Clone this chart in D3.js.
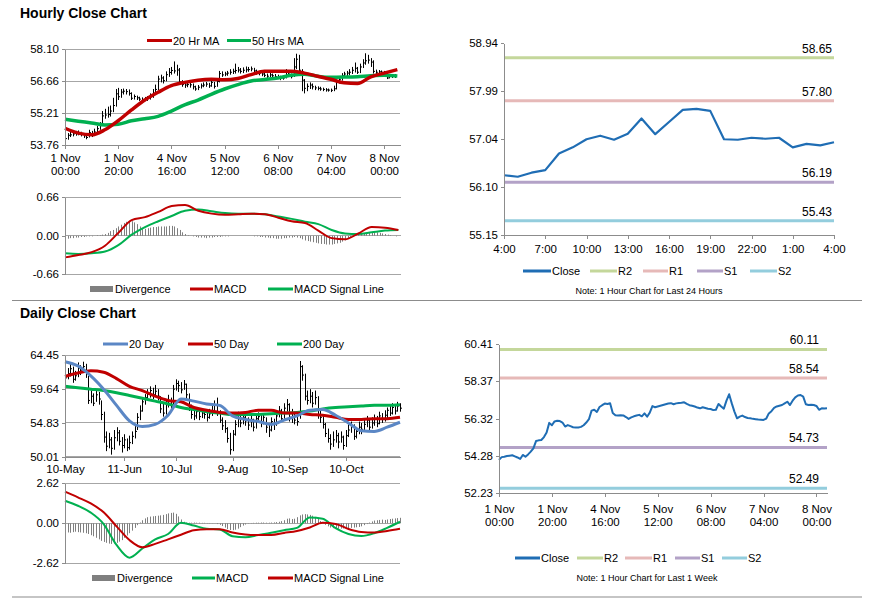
<!DOCTYPE html>
<html>
<head>
<meta charset="utf-8">
<script src="https://cdn.jsdelivr.net/npm/d3@7"></script>
<style>
  body { margin: 0; background: #fff; }
  svg { font-family: Arial, "Liberation Sans", sans-serif; }
  .axis path, .axis line { stroke: #8c8c8c; shape-rendering: crispEdges; }
  .axis text { font-size: 11.5px; fill: #000; }
  .grid { stroke: #a6a6a6; stroke-width: 1; shape-rendering: crispEdges; }
  .legend text { font-size: 11px; fill: #000; }
  .title { font-size: 14px; font-weight: bold; }
</style>
</head>
<body>
<svg id="chart" width="873" height="601"></svg>
<script>
// ---- hourly data (1 Nov 00:00 - 8 Nov 04:00, trading hours) ----
const hourTickIdx = [0, 20, 40, 60, 80, 100, 120];
const hourTickDay = ['1 Nov', '1 Nov', '4 Nov', '5 Nov', '6 Nov', '7 Nov', '8 Nov'];
const hourTickTime = ['00:00', '20:00', '16:00', '12:00', '08:00', '04:00', '00:00'];

const hourClose = [54.05,54.20,54.22,54.26,54.28,54.30,54.24,54.18,54.10,54.32,
  54.22,54.35,54.50,54.68,55.08,55.12,55.14,55.30,55.55,56.08,
  55.95,56.16,56.20,56.18,56.10,55.88,55.96,55.90,55.84,55.82,
  55.83,55.86,55.95,56.10,56.28,56.75,56.80,56.68,56.95,57.05,
  57.14,57.12,57.16,56.62,56.50,56.48,56.50,56.49,56.40,56.30,
  56.38,56.44,56.48,56.52,56.44,56.60,56.42,56.64,57.00,56.94,
  56.98,57.02,57.06,57.10,57.14,57.16,57.10,57.15,57.17,57.18,
  57.21,57.12,57.05,57.02,56.98,56.92,56.88,56.94,56.90,56.86,
  56.84,56.78,56.80,57.12,56.98,56.86,57.30,57.65,57.15,56.70,
  56.33,56.42,56.48,56.40,56.35,56.33,56.30,56.28,56.26,56.25,
  56.24,56.31,56.60,56.72,56.90,56.98,57.02,57.06,57.15,57.24,
  57.06,57.30,57.48,57.58,57.61,57.52,57.10,57.06,57.08,57.06,
  57.01,56.80,56.88,56.87,56.88];

const hourHigh = [54.25,54.30,54.35,54.38,54.40,54.42,54.36,54.30,54.28,54.45,
  54.40,54.50,54.62,54.80,55.30,55.40,55.50,55.55,55.90,56.30,
  56.35,56.30,56.32,56.30,56.28,56.15,56.05,56.00,55.95,55.92,
  55.94,55.98,56.10,56.30,56.50,56.90,56.95,56.88,57.10,57.25,
  57.30,57.55,57.40,57.25,56.70,56.62,56.60,56.58,56.55,56.45,
  56.48,56.55,56.60,56.62,56.58,56.70,56.62,56.78,57.12,57.10,
  57.08,57.12,57.20,57.22,57.45,57.30,57.25,57.28,57.32,57.30,
  57.32,57.26,57.18,57.12,57.10,57.05,57.00,57.04,57.00,56.98,
  56.95,56.90,56.92,57.20,57.15,57.00,57.70,57.90,57.85,57.20,
  56.75,56.55,56.60,56.55,56.45,56.42,56.40,56.36,56.34,56.32,
  56.32,56.45,56.72,56.88,57.02,57.08,57.12,57.20,57.30,57.50,
  57.30,57.45,57.65,57.92,57.85,57.70,57.60,57.18,57.16,57.14,
  57.12,57.05,56.98,56.96,56.98];

const hourLow = [53.95,54.00,54.12,54.15,54.18,54.20,54.15,54.08,54.02,54.10,
  54.12,54.20,54.30,54.45,54.65,54.95,55.00,55.05,55.25,55.50,
  55.80,55.90,56.05,56.05,56.00,55.80,55.82,55.80,55.76,55.74,
  55.75,55.76,55.82,55.90,56.05,56.25,56.60,56.55,56.65,56.85,
  56.95,57.00,56.90,56.50,56.40,56.35,56.38,56.36,56.28,56.22,
  56.25,56.32,56.38,56.40,56.35,56.40,56.32,56.40,56.60,56.85,
  56.88,56.90,56.95,56.98,57.00,57.05,57.00,57.02,57.05,57.08,
  57.10,57.02,56.95,56.92,56.88,56.84,56.80,56.84,56.82,56.78,
  56.75,56.70,56.72,56.78,56.90,56.78,56.85,57.20,56.90,56.20,
  56.10,56.20,56.30,56.28,56.25,56.24,56.22,56.20,56.18,56.18,
  56.16,56.20,56.28,56.55,56.68,56.82,56.88,56.92,56.98,57.05,
  56.98,57.02,57.25,57.40,57.45,57.30,57.00,56.95,56.98,56.96,
  56.92,56.75,56.78,56.80,56.80];

// moving averages / MACD sampled every 5 hours
const hourMaIdx = [0,5,10,15,20,25,30,35,40,45,50,55,60,65,70,75,80,85,90,95,100,105,110,115,120,125];
const ma20Hr = [54.52,54.30,54.22,54.45,54.86,55.35,55.80,56.15,56.45,56.60,56.70,56.74,56.72,
  56.78,56.95,57.10,57.11,57.11,57.02,56.88,56.74,56.58,56.55,56.85,57.02,57.18];
const ma50Hr = [54.93,54.84,54.76,54.67,54.70,54.86,54.95,55.06,55.30,55.58,55.80,56.06,56.30,
  56.50,56.66,56.73,56.80,56.92,56.97,56.88,56.83,56.84,56.86,56.90,56.92,56.89];
const macdHour = [-0.37,-0.33,-0.28,-0.17,0.05,0.27,0.32,0.41,0.51,0.53,0.43,0.38,0.36,
  0.37,0.38,0.37,0.31,0.25,0.22,0.09,-0.04,-0.06,0.04,0.15,0.14,0.10];
const signalHour = [-0.30,-0.31,-0.30,-0.27,-0.16,0.02,0.15,0.25,0.34,0.43,0.45,0.42,0.39,
  0.38,0.38,0.37,0.33,0.29,0.24,0.20,0.10,0.04,0.03,0.06,0.09,0.10];
const divHour = [-0.05,-0.05,-0.04,-0.04,-0.03,-0.03,-0.02,-0.02,-0.01,-0.01,
  -0.01,0.00,0.01,0.01,0.02,0.03,0.05,0.08,0.10,0.13,
  0.16,0.19,0.22,0.24,0.25,0.25,0.23,0.20,0.16,0.13,
  0.12,0.13,0.14,0.15,0.15,0.16,0.16,0.16,0.16,0.17,
  0.17,0.16,0.13,0.10,0.06,0.03,0.01,0.00,-0.01,-0.02,
  -0.03,-0.03,-0.03,-0.04,-0.03,-0.03,-0.02,-0.02,-0.02,-0.01,
  -0.01,-0.01,0.00,0.00,0.00,0.00,0.00,0.00,0.00,0.00,
  0.00,-0.01,-0.01,-0.02,-0.02,-0.03,-0.03,-0.04,-0.04,-0.05,
  -0.05,-0.05,-0.04,-0.04,-0.03,-0.03,-0.02,-0.03,-0.04,-0.06,
  -0.08,-0.09,-0.10,-0.11,-0.12,-0.13,-0.14,-0.14,-0.15,-0.15,
  -0.15,-0.14,-0.13,-0.12,-0.10,-0.08,-0.05,-0.02,0.00,0.01,
  0.02,0.03,0.04,0.05,0.05,0.06,0.06,0.06,0.05,0.04,
  0.03,0.02,0.01,0.00,-0.01];

const hourYTicks = [53.76, 55.21, 56.66, 58.10];
const hourMacdTicks = [-0.66, 0, 0.66];

// ---- last 24 hours ----
const last24TickIdx = [0, 3, 6, 9, 12, 15, 18, 21, 24];
const last24Labels = ['4:00', '7:00', '10:00', '13:00', '16:00', '19:00', '22:00', '1:00', '4:00'];
const last24Close = [56.33,56.30,56.38,56.43,56.76,56.88,57.04,57.11,57.03,57.15,57.45,57.14,57.38,
  57.62,57.64,57.60,57.04,57.03,57.07,57.05,57.07,56.88,56.95,56.92,56.98];
const last24YTicks = [55.15, 56.10, 57.04, 57.99, 58.94];
const levels24 = [58.65, 57.80, 56.19, 55.43];

// ---- last week levels ----
const weekYTicks = [52.23, 54.28, 56.32, 58.37, 60.41];
const levelsWeek = [60.11, 58.54, 54.73, 52.49];

const levelNames = ['R2', 'R1', 'S1', 'S2'];
const levelColors = ['#c4d79b', '#e6b9b8', '#b3a2c7', '#93cddd'];

// ---- daily data (10 May - early Nov, trading days) ----
const dayTickIdx = [0, 23, 43, 65, 87, 109];
const dayTickLabels = ['10-May', '11-Jun', '10-Jul', '9-Aug', '10-Sep', '10-Oct'];

const dayClose = [61.2,61.8,62.5,61.0,61.5,62.6,62.2,62.8,61.9,58.0,
  58.6,57.6,58.8,58.2,56.0,52.8,51.5,52.4,51.2,52.7,
  53.4,52.2,51.6,52.4,51.3,52.0,52.9,53.6,55.6,56.5,
  57.8,58.4,58.9,59.4,58.8,59.3,58.6,56.8,56.2,57.4,
  57.9,57.2,59.6,60.4,60.1,59.5,60.3,58.8,57.0,56.0,
  55.8,56.4,55.7,56.2,56.0,55.6,56.1,56.5,57.3,56.2,
  55.2,54.4,54.0,52.6,51.0,53.2,54.6,55.4,54.8,55.6,
  55.1,54.5,55.3,54.2,55.4,55.7,54.9,55.6,54.2,53.8,
  55.0,54.6,55.8,56.5,55.4,56.9,57.4,55.6,56.2,55.2,
  55.0,62.8,61.6,58.6,58.0,58.6,57.6,58.4,56.0,55.6,
  54.6,53.3,52.6,51.8,52.4,53.0,52.1,52.8,51.6,53.0,
  53.8,54.4,52.9,53.6,54.2,53.9,54.6,55.2,54.2,54.8,
  55.3,54.7,55.8,55.4,55.9,56.6,56.2,57.0,56.5,57.2,
  56.9];

const dayHigh = [62.3,62.6,63.2,62.8,62.2,63.4,63.0,63.5,63.2,61.5,
  59.4,59.0,59.5,59.2,58.0,56.4,53.6,53.4,52.8,53.8,
  54.2,53.8,52.8,53.2,52.6,53.0,53.6,54.4,56.2,57.3,
  58.4,58.9,59.6,60.0,59.8,60.2,59.6,58.6,57.5,58.2,
  58.8,58.4,60.2,61.0,60.8,60.6,60.9,60.4,59.0,57.4,
  56.8,57.0,56.8,56.9,56.7,56.5,56.8,57.2,58.0,58.4,
  56.6,55.6,55.2,54.2,53.4,53.8,55.2,56.4,55.8,56.2,
  56.0,55.6,55.9,55.4,56.0,56.3,55.9,56.2,55.6,54.8,
  55.6,55.4,56.3,57.2,56.8,57.6,58.2,57.6,56.8,56.4,
  56.0,63.6,63.0,61.8,59.4,59.6,59.2,59.4,58.6,56.6,
  55.8,54.8,54.0,53.2,53.6,53.8,53.4,53.6,53.0,53.8,
  54.6,55.0,54.6,54.2,55.0,54.8,55.4,55.8,55.4,55.6,
  56.0,55.8,56.4,56.2,56.6,57.0,57.2,57.6,57.4,57.8,
  57.6];

const dayLow = [60.6,61.0,61.4,60.5,60.8,61.3,61.6,62.0,61.2,57.5,
  57.6,57.2,57.8,57.4,55.2,52.0,50.8,51.2,50.3,51.0,
  52.2,51.6,50.6,51.2,50.8,51.0,51.8,52.6,53.8,55.2,
  56.4,57.4,58.0,58.4,58.2,58.6,58.0,56.2,55.7,56.0,
  57.0,56.8,57.4,59.4,59.2,59.0,59.5,58.2,56.5,55.4,
  55.2,55.4,55.2,55.5,55.4,55.0,55.4,55.8,56.4,55.8,
  54.8,53.8,53.4,52.0,50.3,50.8,53.0,54.2,54.2,54.6,
  54.4,53.8,54.2,53.6,54.0,55.0,54.2,54.6,53.4,52.8,
  53.6,53.8,54.4,55.6,55.0,55.4,56.4,55.0,54.8,54.6,
  54.4,55.4,60.8,58.0,57.4,57.6,57.0,57.4,55.4,54.8,
  54.0,52.8,52.0,51.0,51.4,52.0,51.2,52.0,51.0,51.4,
  52.8,53.4,52.4,52.6,53.2,53.2,53.6,54.2,53.6,54.0,
  54.4,54.2,54.6,54.8,55.0,55.4,55.8,56.0,56.0,56.4,
  56.4];

// moving averages / MACD sampled every 5 days
const dayMaIdx = [0,5,10,15,20,25,30,35,40,45,50,55,60,65,70,75,80,85,90,95,100,105,110,115,120,125,130];
const ma20Day = [63.5,62.9,61.5,59.6,57.3,55.1,54.3,54.6,55.9,58.2,57.9,57.5,57.3,55.8,
  55.3,55.0,54.6,55.2,55.8,56.6,56.7,55.9,54.8,53.7,53.6,54.2,54.9];
const ma50Day = [61.4,61.9,62.2,62.0,61.1,60.0,59.4,58.6,58.0,57.8,57.0,56.6,56.3,56.2,
  56.3,56.6,56.6,56.2,56.2,56.0,55.9,55.6,55.3,55.3,55.4,55.4,55.6];
const ma200Day = [60.0,59.8,59.6,59.4,59.1,58.7,58.3,57.9,57.5,57.0,56.7,56.4,56.2,56.0,
  56.0,56.0,56.1,56.2,56.3,56.5,56.8,57.0,57.1,57.2,57.3,57.3,57.4];
const macdDay = [1.48,1.15,0.70,-0.05,-1.42,-2.25,-1.65,-1.05,-0.70,0.03,-0.15,-0.36,-0.40,
  -0.85,-0.92,-0.77,-0.62,-0.45,-0.30,0.38,0.30,-0.32,-0.70,-0.83,-0.65,-0.30,0.10];
const signalDay = [2.07,1.70,1.30,0.72,-0.20,-1.10,-1.57,-1.35,-1.05,-0.75,-0.45,-0.39,-0.39,
  -0.60,-0.73,-0.77,-0.76,-0.63,-0.50,-0.27,0.03,-0.04,-0.37,-0.57,-0.61,-0.50,-0.36];
const divDay = [-0.62,-0.60,-0.62,-0.58,-0.55,-0.58,-0.60,-0.62,-0.65,-0.70,
  -0.78,-0.85,-0.95,-1.05,-1.15,-1.22,-1.28,-1.33,-1.35,-1.32,
  -1.28,-1.20,-1.10,-0.95,-0.80,-0.65,-0.48,-0.30,-0.12,0.05,
  0.20,0.32,0.40,0.44,0.46,0.48,0.50,0.52,0.55,0.60,
  0.65,0.68,0.70,0.62,0.45,0.25,0.10,0.05,0.04,0.04,
  0.05,0.04,0.04,0.03,0.03,0.02,0.02,0.01,0.00,-0.05,
  -0.10,-0.18,-0.28,-0.38,-0.44,-0.45,-0.42,-0.35,-0.25,-0.15,
  -0.08,-0.02,0.02,0.03,0.04,0.04,0.05,0.05,0.04,0.04,
  0.05,0.06,0.08,0.10,0.14,0.20,0.30,0.32,0.28,0.30,
  0.40,0.52,0.58,0.60,0.58,0.55,0.50,0.42,0.30,0.15,
  0.02,-0.10,-0.20,-0.28,-0.32,-0.35,-0.36,-0.35,-0.34,-0.33,
  -0.32,-0.30,-0.28,-0.26,-0.24,-0.20,-0.12,-0.05,0.05,0.12,
  0.18,0.20,0.22,0.24,0.22,0.25,0.28,0.30,0.32,0.34,
  0.36];

const dayYTicks = [50.01, 54.83, 59.64, 64.45];
const dayMacdTicks = [-2.62, 0, 2.62];

const RED = '#c00000';
const GREEN = '#00b050';
const BLUE = '#5b87c5';
const CLOSE_BLUE = '#1f6db4';
const GREY_BAR = '#7f7f7f';

const svg = d3.select('#chart');
const fmt = d => d.toFixed(2);

/**
 * Horizontal gridlines
 */
function addGridY(y, ticks, x0, x1) {
    svg.append('g').selectAll('line')
        .data(ticks)
        .enter().append('line')
        .attr('class', 'grid')
        .attr('x1', x0).attr('x2', x1)
        .attr('y1', d => y(d)).attr('y2', d => y(d));
}

/**
 * Left value axis
 */
function addAxisY(y, ticks, x) {
    svg.append('g')
        .attr('class', 'axis')
        .attr('transform', `translate(${x},0)`)
        .call(d3.axisLeft(y).tickValues(ticks).tickFormat(fmt).tickSize(3).tickSizeOuter(0).tickPadding(3));
}

/**
 * Bottom axis, optionally two label lines
 */
function addAxisX(x, yPos, ticks, line1, line2, pad) {
    const ax = svg.append('g')
        .attr('class', 'axis')
        .attr('transform', `translate(0,${yPos})`)
        .call(d3.axisBottom(x).tickValues(ticks).tickSize(4).tickSizeOuter(0).tickPadding(pad || 4)
            .tickFormat((d, i) => line1[i]));
    if (line2) {
        ax.selectAll('.tick text').each(function (d, i) {
            const t = d3.select(this);
            t.text(null);
            t.append('tspan').attr('x', 0).attr('dy', '0.71em').text(line1[i]);
            t.append('tspan').attr('x', 0).attr('dy', '1.15em').text(line2[i]);
        });
    }
    return ax;
}

/**
 * High-low bars with a close tick
 */
function addOhlc(x, y, hi, lo, cl) {
    const g = svg.append('g').attr('stroke', '#000').attr('stroke-width', 1);
    g.selectAll('line.hl')
        .data(cl)
        .enter().append('line')
        .attr('x1', (d, i) => Math.round(x(i)) + 0.5)
        .attr('x2', (d, i) => Math.round(x(i)) + 0.5)
        .attr('y1', (d, i) => y(hi[i]))
        .attr('y2', (d, i) => y(lo[i]));
    g.selectAll('line.cl')
        .data(cl)
        .enter().append('line')
        .attr('x1', (d, i) => Math.round(x(i)) + 0.5)
        .attr('x2', (d, i) => Math.round(x(i)) + 2)
        .attr('y1', d => y(d))
        .attr('y2', d => y(d));
}

/**
 * Line series
 */
function addLine(x, y, idx, values, color, width, curve) {
    const line = d3.line()
        .x((d, i) => x(idx[i]))
        .y(d => y(d))
        .curve(curve || d3.curveMonotoneX);
    svg.append('path')
        .datum(values)
        .attr('fill', 'none')
        .attr('stroke', color)
        .attr('stroke-width', width)
        .attr('stroke-linejoin', 'round')
        .attr('d', line);
}

/**
 * Divergence histogram
 */
function addHistogram(x, y, values) {
    svg.append('g').selectAll('line')
        .data(values)
        .enter().append('line')
        .attr('x1', (d, i) => Math.round(x(i)) + 0.5)
        .attr('x2', (d, i) => Math.round(x(i)) + 0.5)
        .attr('y1', y(0))
        .attr('y2', d => y(d))
        .attr('stroke', GREY_BAR)
        .attr('stroke-width', 1);
}

/**
 * Support / resistance levels with value labels
 */
function addLevels(x0, x1, y, levels, labelX) {
    levels.forEach((v, i) => {
        svg.append('line')
            .attr('x1', x0).attr('x2', x1)
            .attr('y1', y(v)).attr('y2', y(v))
            .attr('stroke', levelColors[i])
            .attr('stroke-width', 3);
        svg.append('text')
            .attr('x', labelX).attr('y', y(v) - 5)
            .attr('text-anchor', 'end')
            .attr('font-size', 12)
            .text(fmt(v));
    });
}

function legendLine(x1, x2, y, color, label, width) {
    const g = svg.append('g').attr('class', 'legend');
    g.append('line').attr('x1', x1).attr('x2', x2).attr('y1', y).attr('y2', y)
        .attr('stroke', color).attr('stroke-width', width || 3);
    g.append('text').attr('x', x2 + 1).attr('y', y + 4).text(label);
}

function legendBox(x1, x2, y, color, label) {
    const g = svg.append('g').attr('class', 'legend');
    g.append('rect').attr('x', x1).attr('y', y - 3).attr('width', x2 - x1).attr('height', 6).attr('fill', color);
    g.append('text').attr('x', x2 + 2).attr('y', y + 4).text(label);
}

function separator(y) {
    svg.append('line').attr('x1', 12).attr('x2', 862).attr('y1', y).attr('y2', y)
        .attr('stroke', '#8c8c8c').attr('stroke-width', 1.2);
}

// ================= titles =================
svg.append('text').attr('class', 'title').attr('x', 20).attr('y', 18).text('Hourly Close Chart');
svg.append('text').attr('class', 'title').attr('x', 20).attr('y', 318).text('Daily Close Chart');
separator(300.5);
separator(597);

// ================= hourly price =================
const xHour = d3.scaleLinear().domain([0, 126]).range([65, 400]);
const yHour = d3.scaleLinear().domain([53.76, 58.10]).range([145, 49.3]);
addGridY(yHour, hourYTicks, 65, 400);
addOhlc(xHour, yHour, hourHigh, hourLow, hourClose);
addLine(xHour, yHour, hourMaIdx, ma50Hr, GREEN, 3.5);
addLine(xHour, yHour, hourMaIdx, ma20Hr, RED, 3.5);
addAxisY(yHour, hourYTicks, 65);
addAxisX(xHour, 145, hourTickIdx, hourTickDay, hourTickTime, 5);
legendLine(147, 172, 40.5, RED, '20 Hr MA');
legendLine(227, 251, 40.5, GREEN, '50 Hrs MA');

// ================= hourly MACD =================
const xHourM = d3.scaleLinear().domain([0, 126]).range([65, 401]);
const yHourM = d3.scaleLinear().domain([-0.66, 0.66]).range([274.3, 197.3]);
addGridY(yHourM, hourMacdTicks, 65, 401);
addHistogram(xHourM, yHourM, divHour);
addLine(xHourM, yHourM, hourMaIdx, signalHour, GREEN, 2);
addLine(xHourM, yHourM, hourMaIdx, macdHour, RED, 2);
addAxisY(yHourM, hourMacdTicks, 65);
legendBox(90, 113, 289, GREY_BAR, 'Divergence');
legendLine(190, 213, 289, RED, 'MACD');
legendLine(268, 293, 289, GREEN, 'MACD Signal Line');

// ================= last 24 hours =================
const x24 = d3.scaleLinear().domain([0, 24]).range([504, 834]);
const y24 = d3.scaleLinear().domain([55.15, 58.94]).range([235, 43]);
addLevels(504, 834, y24, levels24, 832);
addLine(x24, y24, d3.range(last24Close.length), last24Close, CLOSE_BLUE, 2.2, d3.curveLinear);
addAxisY(y24, last24YTicks, 504);
addAxisX(x24, 235, last24TickIdx, last24Labels, null, 6);
legendLine(523, 551, 271, CLOSE_BLUE, 'Close');
levelNames.forEach((n, i) => {
    const xs = [[590, 617], [643, 668], [697, 723], [750, 777]][i];
    legendLine(xs[0], xs[1], 271, levelColors[i], n);
});
svg.append('text').attr('x', 649).attr('y', 294).attr('text-anchor', 'middle')
    .attr('font-size', 9).text('Note: 1 Hour Chart for Last 24 Hours');

// ================= daily price =================
const xDay = d3.scaleLinear().domain([0, 130]).range([65, 400]);
const yDay = d3.scaleLinear().domain([50.01, 64.45]).range([456.7, 355]);
addGridY(yDay, dayYTicks, 65, 400);
addOhlc(xDay, yDay, dayHigh, dayLow, dayClose);
addLine(xDay, yDay, dayMaIdx, ma200Day, GREEN, 3);
addLine(xDay, yDay, dayMaIdx, ma50Day, RED, 3);
addLine(xDay, yDay, dayMaIdx, ma20Day, BLUE, 3);
addAxisY(yDay, dayYTicks, 65);
addAxisX(xDay, 456.7, dayTickIdx, dayTickLabels, null, 4);
legendLine(103, 128, 344, BLUE, '20 Day');
legendLine(188, 213, 344, RED, '50 Day');
legendLine(277, 302, 344, GREEN, '200 Day');

// ================= daily MACD =================
const yDayM = d3.scaleLinear().domain([-2.62, 2.62]).range([563.3, 483.3]);
addGridY(yDayM, dayMacdTicks, 65, 400);
addHistogram(xDay, yDayM, divDay);
addLine(xDay, yDayM, dayMaIdx, macdDay, GREEN, 2);
addLine(xDay, yDayM, dayMaIdx, signalDay, RED, 2);
addAxisY(yDayM, dayMacdTicks, 65);
legendBox(92, 115, 578, GREY_BAR, 'Divergence');
legendLine(192, 215, 578, GREEN, 'MACD');
legendLine(268, 293, 578, RED, 'MACD Signal Line');

// ================= last week (hourly close) =================
const xWeek = d3.scaleLinear().domain([0, 124]).range([499, 827]);
const yWeek = d3.scaleLinear().domain([52.23, 60.41]).range([493, 344]);
addLevels(499, 827, yWeek, levelsWeek, 819);
addLine(xWeek, yWeek, d3.range(hourClose.length), hourClose, CLOSE_BLUE, 2, d3.curveLinear);
addAxisY(yWeek, weekYTicks, 499);
addAxisX(xWeek, 493, hourTickIdx, hourTickDay, hourTickTime, 8);
legendLine(515, 540, 558, CLOSE_BLUE, 'Close');
levelNames.forEach((n, i) => {
    const xs = [[577, 603], [625, 652], [675, 700], [722, 747]][i];
    legendLine(xs[0], xs[1], 558, levelColors[i], n);
});
svg.append('text').attr('x', 647).attr('y', 581).attr('text-anchor', 'middle')
    .attr('font-size', 9).text('Note: 1 Hour Chart for Last 1 Week');
</script>
</body>
</html>
